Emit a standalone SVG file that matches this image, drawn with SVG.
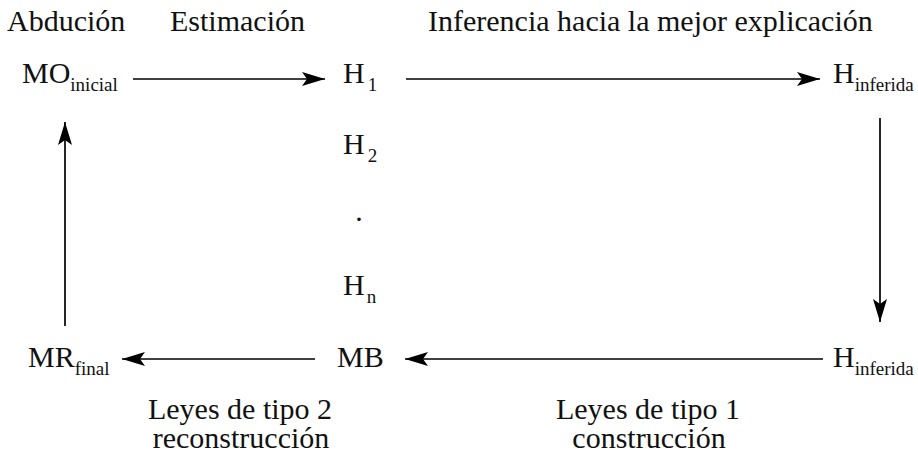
<svg xmlns="http://www.w3.org/2000/svg" width="918" height="460" viewBox="0 0 918 460">
<style>
text{font-family:'Liberation Serif','DejaVu Serif',serif;fill:#111;}
.t{font-size:30px;}
.s{font-size:19px;}
.c{stroke:#000;stroke-width:1.7;fill:none;marker-end:url(#ah);}
</style>
<defs>
<marker id="ah" markerUnits="userSpaceOnUse" markerWidth="26" markerHeight="16" refX="23" refY="7" orient="auto" overflow="visible">
<path d="M23,7 L0,0 L5,7 L0,14 Z" fill="#000"/>
</marker>
</defs>
<g id="titles">
<text class="t" x="7" y="31">Abdución</text>
<text class="t" x="170" y="31">Estimación</text>
<text class="t" x="428" y="31">Inferencia hacia la mejor explicación</text>
</g>
<g id="MO"><text class="t" x="22" y="83">MO<tspan class="s" dy="8">inicial</tspan></text></g>
<g id="H1"><text class="t" x="343" y="83">H<tspan class="s" dy="8" dx="3">1</tspan></text></g>
<g id="Hinf1"><text class="t" x="833" y="83">H<tspan class="s" dy="8">inferida</tspan></text></g>
<g id="H2"><text class="t" x="343" y="154">H<tspan class="s" dy="8" dx="3">2</tspan></text></g>
<g id="dots"><text class="t" x="359" y="221" text-anchor="middle">.</text></g>
<g id="Hn"><text class="t" x="343" y="295">H<tspan class="s" dy="8" dx="2">n</tspan></text></g>
<g id="MR"><text class="t" x="28" y="367">MR<tspan class="s" dy="8">final</tspan></text></g>
<g id="MB"><text class="t" x="337" y="367">MB</text></g>
<g id="Hinf2"><text class="t" x="833" y="367">H<tspan class="s" dy="8">inferida</tspan></text></g>
<g id="labels">
<text class="t" x="240" y="419" text-anchor="middle">Leyes de tipo 2</text>
<text class="t" x="241" y="448" text-anchor="middle">reconstrucción</text>
<text class="t" x="648" y="419" text-anchor="middle">Leyes de tipo 1</text>
<text class="t" x="649" y="448" text-anchor="middle">construcción</text>
</g>
<g id="connectors">
<line class="c" x1="133" y1="79" x2="325" y2="79"/>
<line class="c" x1="406" y1="79" x2="820" y2="79"/>
<line class="c" x1="880" y1="118" x2="880" y2="322"/>
<line class="c" x1="823" y1="359" x2="405" y2="359"/>
<line class="c" x1="315" y1="359" x2="122" y2="359"/>
<line class="c" x1="65" y1="326" x2="65" y2="122"/>
</g>
</svg>
